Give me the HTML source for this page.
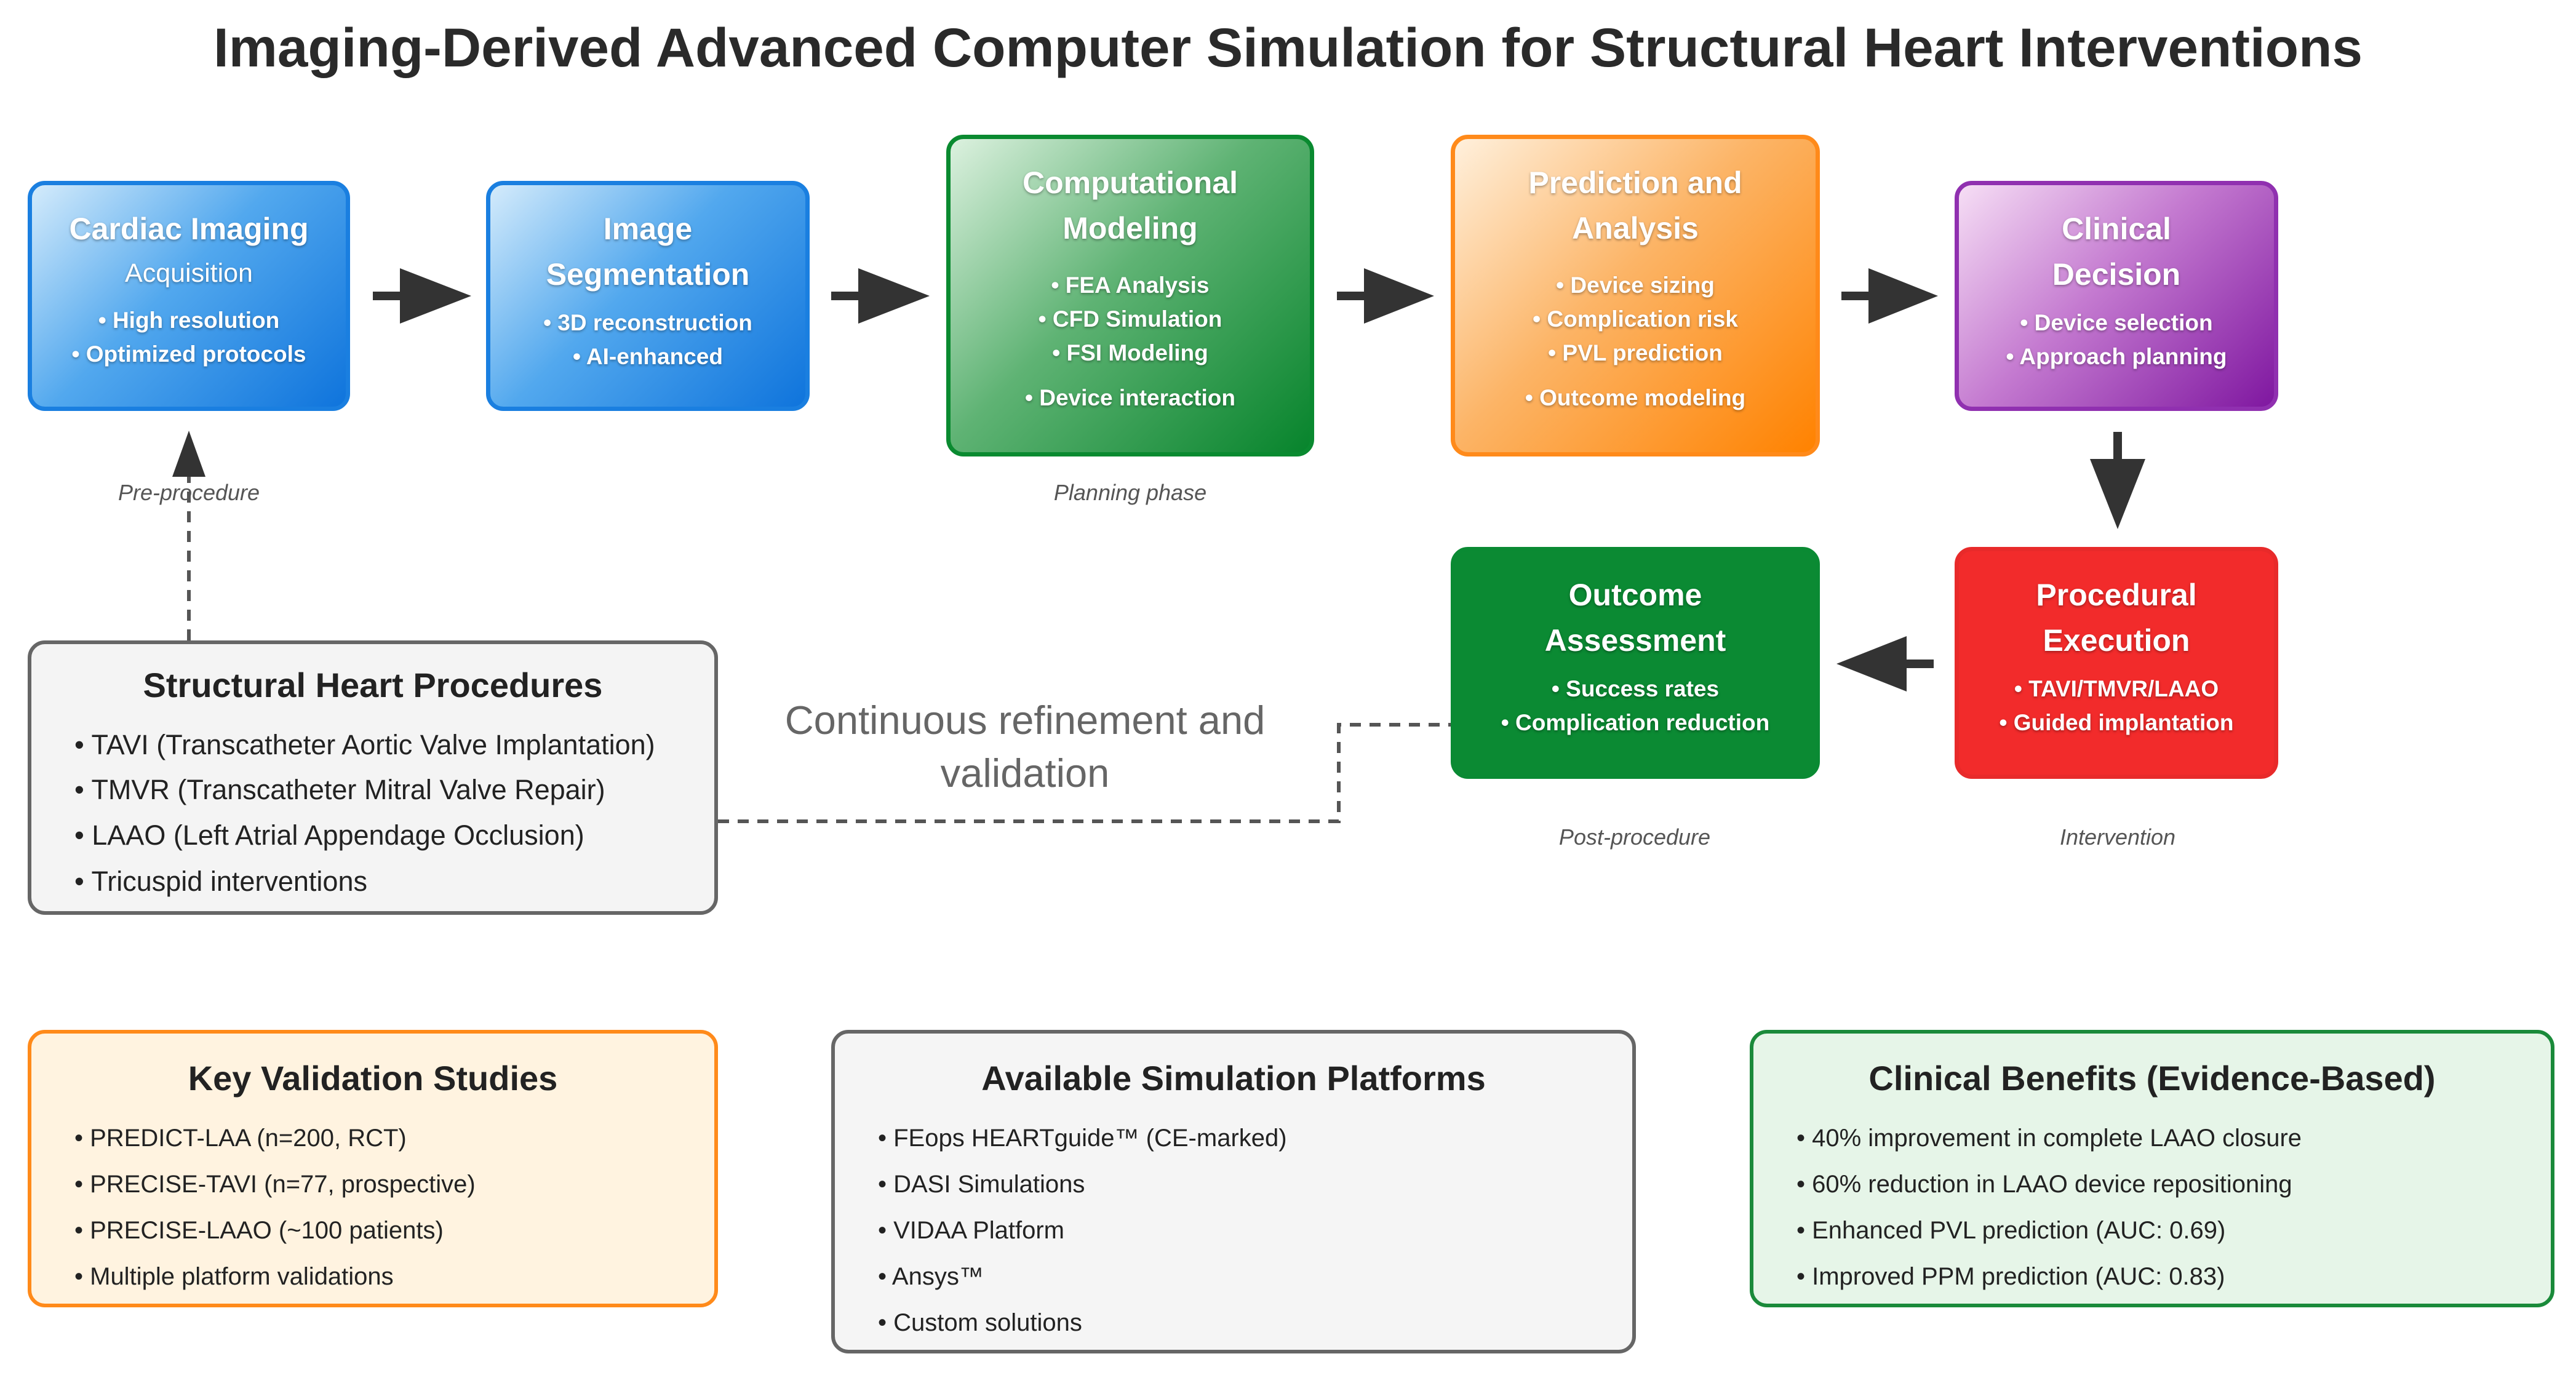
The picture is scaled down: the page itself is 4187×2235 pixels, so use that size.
<!DOCTYPE html>
<html><head><meta charset="utf-8"><style>
body{margin:0;width:4187px;height:2235px;background:#fff;position:relative;overflow:hidden;font-family:"Liberation Sans",sans-serif}
.a{position:absolute}
.box{position:absolute;box-sizing:border-box;border-radius:28px;border:7px solid;color:#fff;text-align:center;text-shadow:0 2px 4px rgba(0,0,0,.35)}
.t{font-weight:bold;font-size:50px;line-height:74px}
.s{font-size:43px;line-height:76px}
.b{font-size:37px;line-height:55px;font-weight:bold}
.lab{position:absolute;font-style:italic;font-size:36px;color:#555;transform:translateX(-50%);white-space:nowrap}
.info{position:absolute;box-sizing:border-box;border-radius:28px;border:6px solid;color:#222}
.info h3{margin:0;text-align:center;font-size:56px;font-weight:bold}
.info div{position:absolute;left:70px;font-size:40px;white-space:nowrap}
</style></head><body>
<div class="a" style="left:0;width:4187px;top:26px;text-align:center;font-size:89px;font-weight:bold;color:#2a2a2a">Imaging-Derived Advanced Computer Simulation for Structural Heart Interventions</div>

<div class="box" style="left:45px;top:294px;width:524px;height:374px;border-color:#1a7fe0;background:linear-gradient(135deg,#d4ebfb,#52a8ee 45%,#0f74dc)"><div style="padding-top:34px" class="t">Cardiac Imaging</div><div class="s" style="line-height:70px">Acquisition</div><div class="b" style="margin-top:14px">• High resolution<br>• Optimized protocols</div></div>

<div class="box" style="left:790px;top:294px;width:526px;height:374px;border-color:#1a7fe0;background:linear-gradient(135deg,#d4ebfb,#52a8ee 45%,#0f74dc)"><div style="padding-top:34px" class="t">Image<br>Segmentation</div><div class="b" style="margin-top:14px">• 3D reconstruction<br>• AI-enhanced</div></div>

<div class="box" style="left:1538px;top:219px;width:598px;height:523px;border-color:#0a8a30;background:linear-gradient(135deg,#dcf1df,#5fb374 45%,#07842c)"><div style="padding-top:34px" class="t">Computational<br>Modeling</div><div class="b" style="margin-top:28px">• FEA Analysis<br>• CFD Simulation<br>• FSI Modeling</div><div class="b" style="margin-top:18px">• Device interaction</div></div>

<div class="box" style="left:2358px;top:219px;width:600px;height:523px;border-color:#ff8a1a;background:linear-gradient(135deg,#fff0dc,#fcb466 45%,#ff8200)"><div style="padding-top:34px" class="t">Prediction and<br>Analysis</div><div class="b" style="margin-top:28px">• Device sizing<br>• Complication risk<br>• PVL prediction</div><div class="b" style="margin-top:18px">• Outcome modeling</div></div>

<div class="box" style="left:3177px;top:294px;width:526px;height:374px;border-color:#9030b0;background:linear-gradient(135deg,#f6def5,#c47ad0 45%,#7f17a0)"><div style="padding-top:34px" class="t">Clinical<br>Decision</div><div class="b" style="margin-top:14px">• Device selection<br>• Approach planning</div></div>

<div class="box" style="left:3177px;top:889px;width:526px;height:377px;border-color:#e82a2a;background:#f22b2b"><div style="padding-top:34px" class="t">Procedural<br>Execution</div><div class="b" style="margin-top:14px">• TAVI/TMVR/LAAO<br>• Guided implantation</div></div>

<div class="box" style="left:2358px;top:889px;width:600px;height:377px;border-color:#0a8a33;background:#0b8a33"><div style="padding-top:34px" class="t">Outcome<br>Assessment</div><div class="b" style="margin-top:14px">• Success rates<br>• Complication reduction</div></div>

<svg class="a" style="left:0;top:0" width="4187" height="2235">
<g fill="#333">
<rect x="606" y="474" width="50" height="14"/><polygon points="650,436 766,481 650,526"/>
<rect x="1351" y="474" width="50" height="14"/><polygon points="1395,436 1511,481 1395,526"/>
<rect x="2173" y="474" width="50" height="14"/><polygon points="2217,436 2331,481 2217,526"/>
<rect x="2993" y="474" width="50" height="14"/><polygon points="3037,436 3150,481 3037,526"/>
<rect x="3435" y="702" width="14" height="50"/><polygon points="3397,746 3487,746 3442,860"/>
<rect x="3093" y="1072" width="50" height="14"/><polygon points="3099,1034 3099,1124 2985,1079"/>
<polygon points="307,700 280,775 334,775"/>
</g>
<g stroke="#555" stroke-width="6" stroke-dasharray="18,14" fill="none">
<line x1="307" y1="1041" x2="307" y2="775"/>
<polyline points="1167,1335 2176,1335 2176,1178 2358,1178"/>
</g>
</svg>
<div class="lab" style="left:307px;top:780px">Pre-procedure</div>
<div class="lab" style="left:1837px;top:780px">Planning phase</div>
<div class="lab" style="left:2657px;top:1340px">Post-procedure</div>
<div class="lab" style="left:3442px;top:1340px">Intervention</div>
<div class="a" style="left:1166px;width:1000px;top:1128px;text-align:center;font-size:65px;line-height:86px;color:#666">Continuous refinement and<br>validation</div>

<div class="info" style="left:45px;top:1041px;width:1122px;height:446px;border-color:#666;background:#f4f4f4"><h3 style="font-size:56px;margin-top:34px">Structural Heart Procedures</h3>
<div style="top:138px;font-size:45px">• TAVI (Transcatheter Aortic Valve Implantation)</div>
<div style="top:211px;font-size:45px">• TMVR (Transcatheter Mitral Valve Repair)</div>
<div style="top:285px;font-size:45px">• LAAO (Left Atrial Appendage Occlusion)</div>
<div style="top:360px;font-size:45px">• Tricuspid interventions</div></div>

<div class="info" style="left:45px;top:1674px;width:1122px;height:451px;border-color:#ff8a1a;background:#fff3e0"><h3 style="margin-top:40px">Key Validation Studies</h3>
<div style="top:148px">• PREDICT-LAA (n=200, RCT)</div>
<div style="top:223px">• PRECISE-TAVI (n=77, prospective)</div>
<div style="top:298px">• PRECISE-LAAO (~100 patients)</div>
<div style="top:373px">• Multiple platform validations</div></div>

<div class="info" style="left:1351px;top:1674px;width:1308px;height:526px;border-color:#666;background:#f5f5f5"><h3 style="margin-top:40px">Available Simulation Platforms</h3>
<div style="top:148px">• FEops HEARTguide™ (CE-marked)</div>
<div style="top:223px">• DASI Simulations</div>
<div style="top:298px">• VIDAA Platform</div>
<div style="top:373px">• Ansys™</div>
<div style="top:448px">• Custom solutions</div></div>

<div class="info" style="left:2844px;top:1674px;width:1308px;height:451px;border-color:#1a8a3a;background:#e6f5e8"><h3 style="margin-top:40px">Clinical Benefits (Evidence-Based)</h3>
<div style="top:148px">• 40% improvement in complete LAAO closure</div>
<div style="top:223px">• 60% reduction in LAAO device repositioning</div>
<div style="top:298px">• Enhanced PVL prediction (AUC: 0.69)</div>
<div style="top:373px">• Improved PPM prediction (AUC: 0.83)</div></div>
</body></html>
